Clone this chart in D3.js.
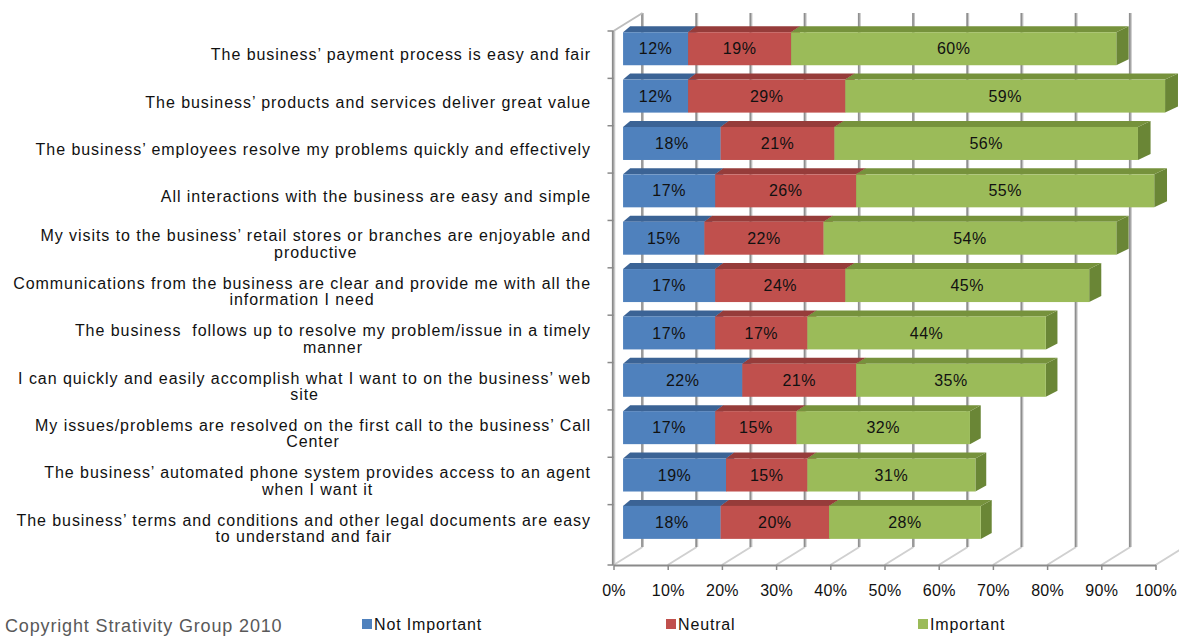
<!DOCTYPE html>
<html>
<head>
<meta charset="utf-8">
<script src="https://cdn.jsdelivr.net/npm/d3@7"></script>
<style>
  html, body { margin: 0; padding: 0; background: #fff; }
  svg { display: block; }
  text { font-family: "Liberation Sans", Arial, sans-serif; }
</style>
</head>
<body>
<svg id="chart" width="1179" height="636"></svg>
<script>
// Survey statements (multi-line where the label wraps)
const categories = [
  ["The business\u2019 payment process is easy and fair"],
  ["The business\u2019 products and services deliver great value"],
  ["The business\u2019 employees resolve my problems quickly and effectively"],
  ["All interactions with the business are easy and simple"],
  ["My visits to the business\u2019 retail stores or branches are enjoyable and", "productive"],
  ["Communications from the business are clear and provide me with all the", "information I need"],
  ["The business  follows up to resolve my problem/issue in a timely", "manner"],
  ["I can quickly and easily accomplish what I want to on the business\u2019 web", "site"],
  ["My issues/problems are resolved on the first call to the business\u2019 Call", "Center"],
  ["The business\u2019 automated phone system provides access to an agent", "when I want it"],
  ["The business\u2019 terms and conditions and other legal documents are easy", "to understand and fair"]
];

// Percent of respondents per rating
const notImportant = [12, 12, 18, 17, 15, 17, 17, 22, 17, 19, 18];
const neutral      = [19, 29, 21, 26, 22, 24, 17, 21, 15, 15, 20];
const important    = [60, 59, 56, 55, 54, 45, 44, 35, 32, 31, 28];

const seriesNames = ["Not Important", "Neutral", "Important"];
const tickValues = [0, 10, 20, 30, 40, 50, 60, 70, 80, 90, 100];

const palette = {
  front: ["#4f81bd", "#c0504d", "#9bbb59"],
  top:   ["#3b6395", "#963c3a", "#76923c"],
  side:  ["#355a87", "#8a3634", "#6a8636"]
};

const svg = d3.select("#chart");

// Front plane of the plot box
const x = d3.scaleLinear().domain([0, 100]).range([613.5, 1155.5]);
const y = d3.scaleBand().domain(d3.range(categories.length)).range([31, 552]);
const wallTop = 31, floorY = 565;

// Oblique depth of the box (front plane -> back wall)
const wallDx = 29, wallDy = -18;
// Bars sit a third of the way into the box
const barZ = 0.33;
const barDx0 = wallDx * barZ, barDy0 = wallDy * barZ;
const barH = 33;
// bar thickness, slightly wider towards the right
const barDepthX = px => 7 + (px - x(0)) * 0.0107;
const barDepthY = -6;

// ---------- back wall gridlines + floor lines ----------
const grid = svg.append("g");
tickValues.forEach(t => {
  const fx = x(t), bx = fx + wallDx;
  const topY = wallTop + wallDy, botY = floorY + wallDy;
  grid.append("line")
    .attr("x1", fx).attr("y1", floorY).attr("x2", bx).attr("y2", botY)
    .attr("stroke", "#d0d0d0").attr("stroke-width", 2);
  grid.append("line")
    .attr("x1", bx).attr("y1", topY).attr("x2", bx).attr("y2", botY)
    .attr("stroke", "#c4c4c4").attr("stroke-width", 3);
  grid.append("line")
    .attr("x1", bx - 0.5).attr("y1", topY).attr("x2", bx - 0.5).attr("y2", botY)
    .attr("stroke", "#8e8e8e").attr("stroke-width", 1.5);
});

// left side wall: top edge
grid.append("line")
  .attr("x1", x(0)).attr("y1", wallTop)
  .attr("x2", x(0) + wallDx).attr("y2", wallTop + wallDy)
  .attr("stroke", "#bdbdbd").attr("stroke-width", 2);

// ---------- bars ----------
const rows = categories.map((c, i) => {
  const vals = [notImportant[i], neutral[i], important[i]];
  let acc = 0;
  return vals.map((v, k) => {
    const seg = { row: i, k, v, x0: acc, x1: acc + v };
    acc += v;
    return seg;
  });
});

const bars = svg.append("g");
rows.forEach(row => {
  row.forEach(s => {
    const xa = x(s.x0) + barDx0, xb = x(s.x1) + barDx0;
    const yt = y(s.row) + (y.bandwidth() - barH) / 2 + barDy0;
    const yb = yt + barH;
    const da = barDepthX(xa), db = barDepthX(xb);
    const g = bars.append("g");
    g.append("polygon")
      .attr("points", [[xb, yt], [xb + db, yt + barDepthY], [xb + db, yb + barDepthY], [xb, yb]].join(" "))
      .attr("fill", palette.side[s.k]);
    g.append("polygon")
      .attr("points", [[xa, yt], [xb, yt], [xb + db, yt + barDepthY], [xa + da, yt + barDepthY]].join(" "))
      .attr("fill", palette.top[s.k]);
    g.append("rect")
      .attr("x", xa).attr("y", yt).attr("width", xb - xa).attr("height", barH)
      .attr("fill", palette.front[s.k]);
    g.append("text")
      .attr("x", (xa + xb) / 2).attr("y", (yt + yb) / 2)
      .attr("dy", "0.35em")
      .attr("text-anchor", "middle")
      .attr("font-size", 16).attr("letter-spacing", 0.5)
      .attr("fill", "#111")
      .text(s.v + "%");
  });
});

// ---------- left wall front edge ----------
const wall = svg.append("g");
wall.append("line")
  .attr("x1", x(0)).attr("y1", wallTop).attr("x2", x(0)).attr("y2", floorY)
  .attr("stroke", "#c8c8c8").attr("stroke-width", 3.5);
wall.append("line")
  .attr("x1", x(0) - 0.7).attr("y1", wallTop).attr("x2", x(0) - 0.7).attr("y2", floorY)
  .attr("stroke", "#8a8a8a").attr("stroke-width", 1.6);
// category tick marks
d3.range(categories.length).forEach(i => {
  wall.append("line")
    .attr("x1", x(0) - 6).attr("y1", y(i)).attr("x2", x(0)).attr("y2", y(i))
    .attr("stroke", "#8a8a8a").attr("stroke-width", 1.5);
});
wall.append("line")
  .attr("x1", x(0) - 6).attr("y1", floorY).attr("x2", x(0)).attr("y2", floorY)
  .attr("stroke", "#8a8a8a").attr("stroke-width", 1.5);

// ---------- value axis ----------
const xAxis = d3.axisBottom(x)
  .tickValues(tickValues)
  .tickFormat(d => d + "%")
  .tickSize(5)
  .tickSizeOuter(0)
  .tickPadding(15);
const ax = svg.append("g")
  .attr("transform", `translate(0,${floorY})`)
  .call(xAxis);
ax.select(".domain").attr("stroke", "#8a8a8a").attr("stroke-width", 2);
ax.selectAll(".tick line").attr("stroke", "#8a8a8a").attr("stroke-width", 1.5);
ax.selectAll(".tick text")
  .attr("font-family", "\"Liberation Sans\", Arial, sans-serif")
  .attr("font-size", 16).attr("letter-spacing", 0.3)
  .attr("fill", "#111");

// ---------- category labels ----------
const labelRight = 591, lineH = 16.5;
const labels = svg.append("g");
categories.forEach((lines, i) => {
  const cy = y(i) + y.bandwidth() / 2;
  const g = labels.append("g");
  const texts = lines.map((ln, j) => g.append("text")
    .attr("y", cy + (j - (lines.length - 1) / 2) * lineH)
    .attr("dy", "0.35em")
    .attr("text-anchor", "middle")
    .attr("font-size", 16).attr("letter-spacing", 0.95)
    .attr("fill", "#111")
    .style("white-space", "pre")
    .text(ln));
  const widths = texts.map(t => t.node().getComputedTextLength());
  const blockW = d3.max(widths);
  texts.forEach(t => t.attr("x", labelRight - blockW / 2));
});

// ---------- legend ----------
const legendX = [362, 666, 918];
const legend = svg.append("g");
seriesNames.forEach((name, k) => {
  legend.append("rect")
    .attr("x", legendX[k]).attr("y", 619).attr("width", 10).attr("height", 10)
    .attr("fill", palette.front[k]);
  legend.append("text")
    .attr("x", legendX[k] + 12).attr("y", 624).attr("dy", "0.35em")
    .attr("font-size", 16).attr("letter-spacing", 0.85)
    .attr("fill", "#111")
    .text(name);
});

// ---------- footer ----------
svg.append("text")
  .attr("x", 5).attr("y", 626).attr("dy", "0.35em")
  .attr("font-size", 18).attr("letter-spacing", 0.85)
  .attr("fill", "#595959")
  .text("Copyright Strativity Group 2010");
</script>
</body>
</html>
